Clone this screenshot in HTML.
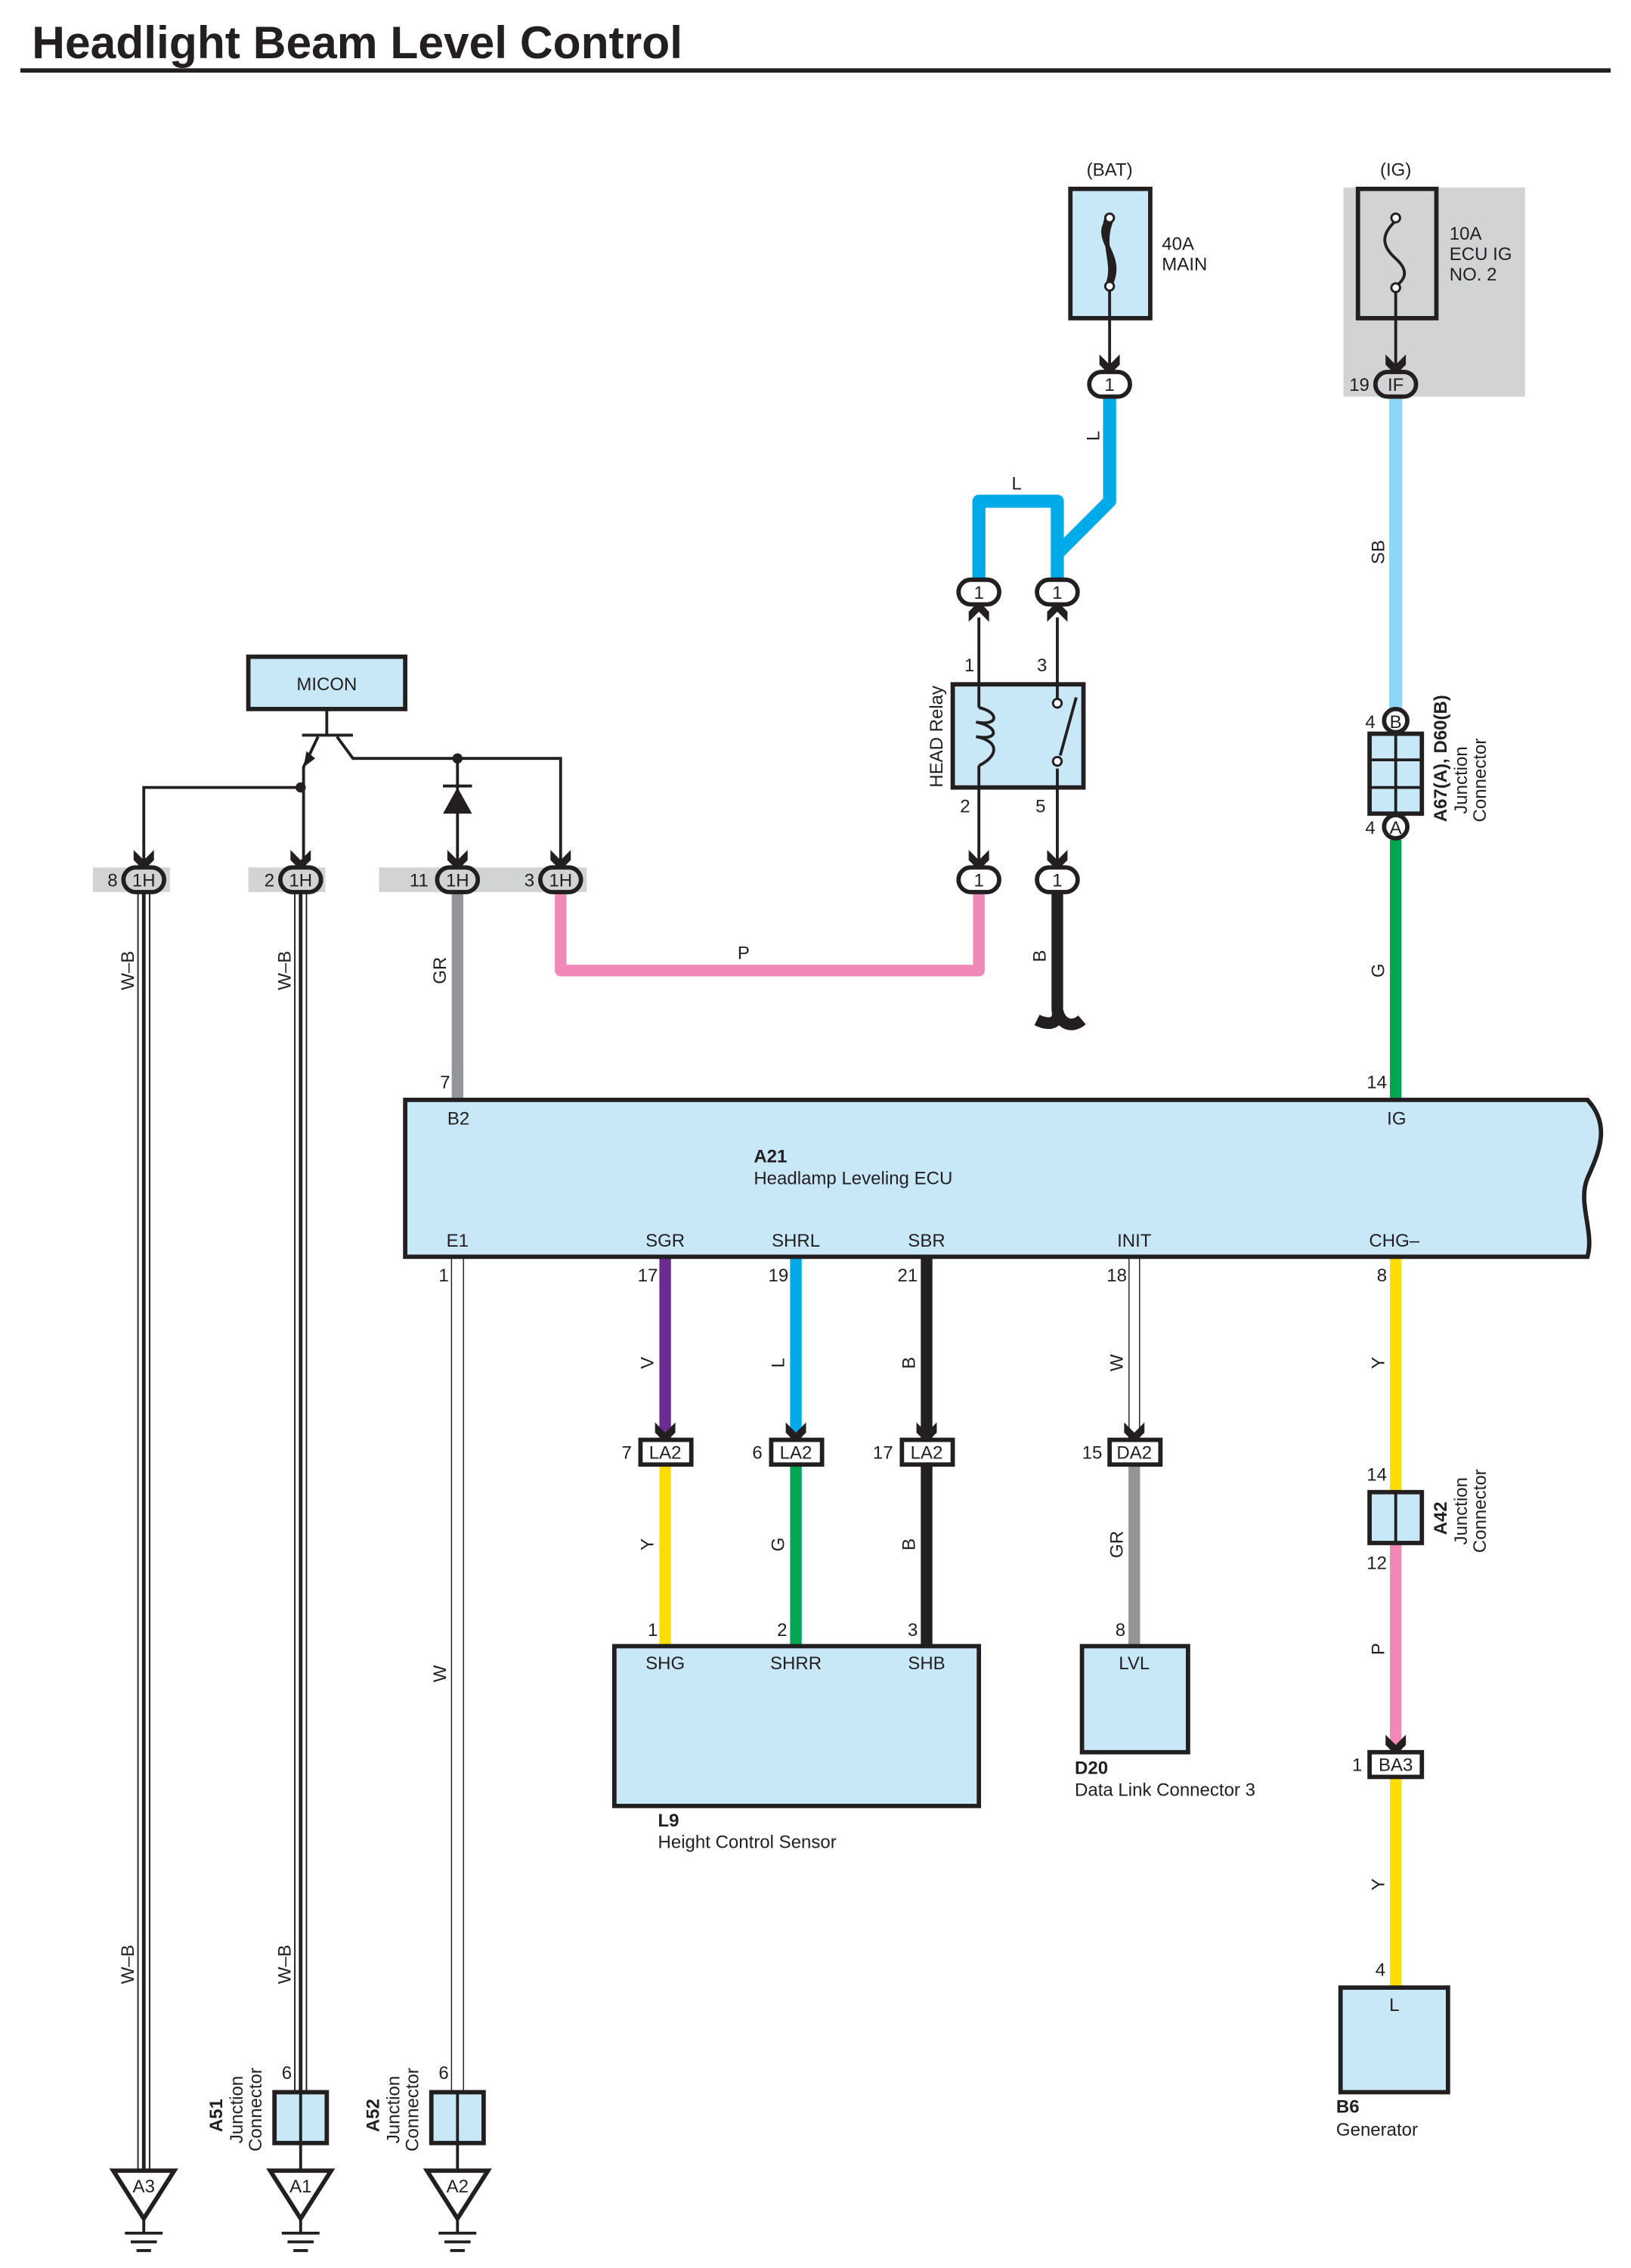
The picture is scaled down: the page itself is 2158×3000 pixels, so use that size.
<!DOCTYPE html>
<html><head><meta charset="utf-8"><style>
html,body{margin:0;padding:0;background:#fff;}
svg{display:block;}
text{font-family:"Liberation Sans",sans-serif;font-size:12.5px;fill:#231f20;}
.b{font-weight:bold;}
</style></head><body>
<svg width="2158" height="3000" viewBox="0 0 1123 1561" preserveAspectRatio="none" xmlns="http://www.w3.org/2000/svg">
<defs>
<path id="chev" d="M-7,-11 L0,-4 L7,-11 L7,-4 L0,3 L-7,-4 Z" fill="#231f20"/>
<path id="chevu" d="M-7,11 L0,4 L7,11 L7,4 L0,-3 L-7,4 Z" fill="#231f20"/>
</defs>
<text x="22" y="40" class="b" style="font-size:31.5px">Headlight Beam Level Control</text>
<rect x="14" y="47" width="1095" height="3" fill="#231f20"/>

<rect x="925" y="129" width="125" height="144" fill="#d2d3d5"/>
<rect x="64" y="597" width="53" height="17" fill="#d2d3d5"/>
<rect x="171" y="597" width="53" height="17" fill="#d2d3d5"/>
<rect x="261" y="597" width="143" height="17" fill="#d2d3d5"/>

<g fill="none" stroke-linejoin="round">
<path d="M764,273 V345 L728,381 V398 M674,398 V345 H728 V381" stroke="#00a9e8" stroke-width="9"/>
<path d="M961,273 V488" stroke="#8dd6f5" stroke-width="9"/>
<path d="M961,578 V757" stroke="#00a651" stroke-width="8"/>
<path d="M674,614 V668 H386 V614" stroke="#f088b8" stroke-width="8"/>
<path d="M728,614 V695 C730,705 722,706 714,702 M728,695 C730,705 738,708 745,702" stroke="#231f20" stroke-width="8"/>
<path d="M315,614 V757" stroke="#939598" stroke-width="8"/>
<path d="M458,865 V990" stroke="#6b2c91" stroke-width="8"/>
<path d="M548,865 V990" stroke="#00a9e8" stroke-width="8"/>
<path d="M638,865 V990" stroke="#231f20" stroke-width="8"/>
<path d="M458,1008 V1133" stroke="#ffdd00" stroke-width="8"/>
<path d="M548,1008 V1133" stroke="#00a651" stroke-width="8"/>
<path d="M638,1008 V1133" stroke="#231f20" stroke-width="8"/>
<path d="M781,1008 V1133" stroke="#939598" stroke-width="8"/>
<path d="M961,865 V1027" stroke="#ffdd00" stroke-width="8"/>
<path d="M961,1062 V1205" stroke="#f088b8" stroke-width="8"/>
<path d="M961,1223 V1368" stroke="#ffdd00" stroke-width="8"/>
</g>
<g fill="none">
<path d="M99,614 V1493" stroke="#231f20" stroke-width="9"/>
<path d="M99,614 V1493" stroke="#fff" stroke-width="7"/>
<path d="M99,614 V1493" stroke="#231f20" stroke-width="2.5"/>
<path d="M207,614 V1440" stroke="#231f20" stroke-width="9"/>
<path d="M207,614 V1440" stroke="#fff" stroke-width="7"/>
<path d="M207,614 V1440" stroke="#231f20" stroke-width="2.5"/>
<path d="M207,1475 V1493" stroke="#231f20" stroke-width="2"/>
<path d="M315,865 V1440" stroke="#231f20" stroke-width="9"/>
<path d="M315,865 V1440" stroke="#fff" stroke-width="7.5"/>
<path d="M315,1475 V1493" stroke="#231f20" stroke-width="2"/>
<path d="M781,865 V990" stroke="#231f20" stroke-width="8"/>
<path d="M781,865 V990" stroke="#fff" stroke-width="6.5"/>
</g>

<text x="764" y="121" text-anchor="middle">(BAT)</text>
<rect x="737" y="130" width="55" height="89" fill="#c8e8f8" stroke="#231f20" stroke-width="3"/>
<path d="M764,150 C750,165 776,175 764,197 M762,150 C756,168 772,178 762,197 M765,152 C758,170 768,180 763,195" fill="none" stroke="#231f20" stroke-width="3"/>
<circle cx="764" cy="150" r="3" fill="#fff" stroke="#231f20" stroke-width="1.5"/>
<circle cx="764" cy="197" r="3" fill="#fff" stroke="#231f20" stroke-width="1.5"/>
<path d="M764,200 V255" stroke="#231f20" stroke-width="2"/>
<text x="800" y="172">40A</text><text x="800" y="186">MAIN</text>
<text x="961" y="121" text-anchor="middle">(IG)</text>
<rect x="935" y="130" width="54" height="89" fill="none" stroke="#231f20" stroke-width="3"/>
<path d="M961,152 C950,162 952,170 961,178 C970,186 968,192 961,197" fill="none" stroke="#231f20" stroke-width="2"/>
<circle cx="961" cy="150" r="3" fill="#fff" stroke="#231f20" stroke-width="1.5"/>
<circle cx="961" cy="198" r="3" fill="#fff" stroke="#231f20" stroke-width="1.5"/>
<path d="M961,201 V255" stroke="#231f20" stroke-width="2"/>
<text x="998" y="165">10A</text><text x="998" y="179">ECU IG</text><text x="998" y="193">NO. 2</text>

<path d="M674,425 V598 M728,425 V598" stroke="#231f20" stroke-width="2"/>
<rect x="656" y="471" width="90" height="71" fill="#c8e8f8" stroke="#231f20" stroke-width="3"/>
<path d="M674,471 V542 M728,471 V542" stroke="#231f20" stroke-width="2"/>
<rect x="667" y="487" width="14" height="40" fill="#c8e8f8"/>
<path d="M674,487 C688,490 688,500 672,497 C688,500 688,510 672,507 C688,510 688,520 674,527" fill="none" stroke="#231f20" stroke-width="2"/>
<rect x="721" y="483" width="14" height="46" fill="#c8e8f8"/>
<path d="M741,480 L730,520" stroke="#231f20" stroke-width="2"/>
<circle cx="728" cy="484" r="3" fill="#fff" stroke="#231f20" stroke-width="1.5"/>
<circle cx="728" cy="524" r="3" fill="#fff" stroke="#231f20" stroke-width="1.5"/>
<text x="664" y="462">1</text><text x="714" y="462">3</text>
<text x="661" y="559">2</text><text x="713" y="559">5</text>
<text transform="translate(649,507) rotate(-90)" text-anchor="middle">HEAD Relay</text>

<rect x="171" y="452" width="108" height="36" fill="#c8e8f8" stroke="#231f20" stroke-width="3"/>
<text x="225" y="475" text-anchor="middle">MICON</text>
<g stroke="#231f20" stroke-width="2" fill="none">
<path d="M225,488 V506 M208,506 H243"/>
<path d="M219,507 L209,528 V598 M207,542 H99 V598"/>
<path d="M232,507 L243,522 H386 V598"/>
<path d="M315,522 V598"/>
</g>
<path d="M209,528 L211,517 L217,522 Z" fill="#231f20"/>
<circle cx="207" cy="542" r="3.5" fill="#231f20"/>
<circle cx="315" cy="522" r="3.5" fill="#231f20"/>
<path d="M305,560 L325,560 L315,542 Z" fill="#231f20"/>
<path d="M305,541 H325" stroke="#231f20" stroke-width="2"/>

<use href="#chev" x="764" y="255"/>
<use href="#chev" x="961" y="255"/>
<use href="#chev" x="99" y="596"/>
<use href="#chev" x="207" y="596"/>
<use href="#chev" x="315" y="596"/>
<use href="#chev" x="386" y="596"/>
<use href="#chev" x="674" y="596"/>
<use href="#chev" x="728" y="596"/>
<use href="#chev" x="458" y="990"/>
<use href="#chev" x="548" y="990"/>
<use href="#chev" x="638" y="990"/>
<use href="#chev" x="781" y="990"/>
<use href="#chev" x="961" y="1205"/>
<use href="#chevu" x="674" y="417"/>
<use href="#chevu" x="728" y="417"/>

<g fill="#fff" stroke="#231f20" stroke-width="3">
<rect x="750" y="256" width="28" height="17" rx="8.5"/>
<rect x="947" y="256" width="28" height="17" rx="8.5" fill="#d2d3d5"/>
<rect x="660" y="399" width="28" height="17" rx="8.5"/>
<rect x="714" y="399" width="28" height="17" rx="8.5"/>
<rect x="660" y="597" width="28" height="17" rx="8.5"/>
<rect x="714" y="597" width="28" height="17" rx="8.5"/>
<rect x="85" y="597" width="28" height="17" rx="8.5" fill="#d2d3d5"/>
<rect x="193" y="597" width="28" height="17" rx="8.5" fill="#d2d3d5"/>
<rect x="301" y="597" width="28" height="17" rx="8.5" fill="#d2d3d5"/>
<rect x="372" y="597" width="28" height="17" rx="8.5" fill="#d2d3d5"/>
</g>
<g text-anchor="middle">
<text x="764" y="269">1</text><text x="961" y="269">IF</text>
<text x="674" y="412">1</text><text x="728" y="412">1</text>
<text x="674" y="610">1</text><text x="728" y="610">1</text>
<text x="99" y="610">1H</text><text x="207" y="610">1H</text>
<text x="315" y="610">1H</text><text x="386" y="610">1H</text>
</g>
<text x="929" y="269">19</text>
<text x="74" y="610">8</text><text x="182" y="610">2</text>
<text x="282" y="610">11</text><text x="361" y="610">3</text>

<g text-anchor="middle">
<text transform="translate(757,300) rotate(-90)">L</text>
<text x="700" y="337">L</text>
<text transform="translate(953,380) rotate(-90)">SB</text>
<text transform="translate(953,668) rotate(-90)">G</text>
<text x="512" y="660">P</text>
<text transform="translate(720,658) rotate(-90)">B</text>
<text transform="translate(92,668) rotate(-90)">W–B</text>
<text transform="translate(200,668) rotate(-90)">W–B</text>
<text transform="translate(307,668) rotate(-90)">GR</text>
<text transform="translate(92,1352) rotate(-90)">W–B</text>
<text transform="translate(200,1352) rotate(-90)">W–B</text>
<text transform="translate(307,1152) rotate(-90)">W</text>
<text transform="translate(450,938) rotate(-90)">V</text>
<text transform="translate(540,938) rotate(-90)">L</text>
<text transform="translate(630,938) rotate(-90)">B</text>
<text transform="translate(773,938) rotate(-90)">W</text>
<text transform="translate(450,1063) rotate(-90)">Y</text>
<text transform="translate(540,1063) rotate(-90)">G</text>
<text transform="translate(630,1063) rotate(-90)">B</text>
<text transform="translate(773,1063) rotate(-90)">GR</text>
<text transform="translate(953,938) rotate(-90)">Y</text>
<text transform="translate(953,1135) rotate(-90)">P</text>
<text transform="translate(953,1297) rotate(-90)">Y</text>
</g>

<circle cx="961" cy="496" r="8" fill="#fff" stroke="#231f20" stroke-width="3"/>
<text x="961" y="501" text-anchor="middle">B</text>
<text x="940" y="501">4</text>
<rect x="943" y="505" width="36" height="55" fill="#c8e8f8" stroke="#231f20" stroke-width="3"/>
<path d="M961,505 V560 M943,523 H979 M943,542 H979" stroke="#231f20" stroke-width="2"/>
<circle cx="961" cy="569" r="8" fill="#fff" stroke="#231f20" stroke-width="3"/>
<text x="961" y="574" text-anchor="middle">A</text>
<text x="940" y="574">4</text>
<text transform="translate(996,522) rotate(-90)" text-anchor="middle" class="b">A67(A), D60(B)</text>
<text transform="translate(1010,537) rotate(-90)" text-anchor="middle">Junction</text>
<text transform="translate(1023,537) rotate(-90)" text-anchor="middle">Connector</text>
<text x="941" y="749">14</text>
<text x="303" y="749">7</text>

<path d="M279,757 H1093 C1110,775 1100,795 1093,811 C1086,828 1098,848 1093,865 H279 Z" fill="#c8e8f8" stroke="#231f20" stroke-width="3"/>
<text x="308" y="774">B2</text><text x="955" y="774">IG</text>
<text x="519" y="800" class="b">A21</text>
<text x="519" y="815">Headlamp Leveling ECU</text>
<g text-anchor="middle">
<text x="315" y="858">E1</text><text x="458" y="858">SGR</text><text x="548" y="858">SHRL</text>
<text x="638" y="858">SBR</text><text x="781" y="858">INIT</text><text x="960" y="858">CHG–</text>
</g>
<text x="302" y="882">1</text><text x="439" y="882">17</text><text x="529" y="882">19</text>
<text x="618" y="882">21</text><text x="762" y="882">18</text><text x="948" y="882">8</text>

<g fill="#fff" stroke="#231f20" stroke-width="3">
<rect x="441" y="991" width="35" height="17"/>
<rect x="531" y="991" width="35" height="17"/>
<rect x="621" y="991" width="35" height="17"/>
<rect x="764" y="991" width="35" height="17"/>
<rect x="943" y="1206" width="36" height="17"/>
</g>
<g text-anchor="middle">
<text x="458" y="1004">LA2</text><text x="548" y="1004">LA2</text>
<text x="638" y="1004">LA2</text><text x="781" y="1004">DA2</text>
<text x="961" y="1219">BA3</text>
</g>
<text x="428" y="1004">7</text><text x="518" y="1004">6</text><text x="601" y="1004">17</text>
<text x="745" y="1004">15</text><text x="931" y="1219">1</text>
<text x="446" y="1126">1</text><text x="535" y="1126">2</text><text x="625" y="1126">3</text><text x="768" y="1126">8</text>

<rect x="423" y="1133" width="251" height="110" fill="#c8e8f8" stroke="#231f20" stroke-width="3"/>
<rect x="745" y="1133" width="73" height="73" fill="#c8e8f8" stroke="#231f20" stroke-width="3"/>
<rect x="923" y="1368" width="74" height="72" fill="#c8e8f8" stroke="#231f20" stroke-width="3"/>
<g text-anchor="middle">
<text x="458" y="1149">SHG</text><text x="548" y="1149">SHRR</text><text x="638" y="1149">SHB</text>
<text x="781" y="1149">LVL</text><text x="960" y="1384">L</text>
</g>
<text x="453" y="1257" class="b">L9</text>
<text x="453" y="1272">Height Control Sensor</text>
<text x="740" y="1221" class="b">D20</text>
<text x="740" y="1236">Data Link Connector 3</text>

<text x="941" y="1019">14</text>
<rect x="943" y="1027" width="36" height="35" fill="#c8e8f8" stroke="#231f20" stroke-width="3"/>
<path d="M961,1027 V1062" stroke="#231f20" stroke-width="2"/>
<text x="941" y="1080">12</text>
<text transform="translate(996,1045) rotate(-90)" text-anchor="middle" class="b">A42</text>
<text transform="translate(1010,1040) rotate(-90)" text-anchor="middle">Junction</text>
<text transform="translate(1023,1040) rotate(-90)" text-anchor="middle">Connector</text>
<text x="947" y="1360">4</text>

<text x="920" y="1454" class="b">B6</text>
<text x="920" y="1470">Generator</text>

<rect x="189" y="1440" width="36" height="35" fill="#c8e8f8" stroke="#231f20" stroke-width="3"/>
<path d="M207,1440 V1475" stroke="#231f20" stroke-width="2"/>
<rect x="297" y="1440" width="36" height="35" fill="#c8e8f8" stroke="#231f20" stroke-width="3"/>
<path d="M315,1440 V1475" stroke="#231f20" stroke-width="2"/>
<text x="194" y="1431">6</text><text x="302" y="1431">6</text>
<text transform="translate(153,1456) rotate(-90)" text-anchor="middle" class="b">A51</text>
<text transform="translate(167,1452) rotate(-90)" text-anchor="middle">Junction</text>
<text transform="translate(180,1452) rotate(-90)" text-anchor="middle">Connector</text>
<text transform="translate(261,1456) rotate(-90)" text-anchor="middle" class="b">A52</text>
<text transform="translate(275,1452) rotate(-90)" text-anchor="middle">Junction</text>
<text transform="translate(288,1452) rotate(-90)" text-anchor="middle">Connector</text>

<g stroke="#231f20" fill="#fff" stroke-width="3">
<path d="M78,1494 H120 L99,1527 Z"/>
<path d="M186,1494 H228 L207,1527 Z"/>
<path d="M294,1494 H336 L315,1527 Z"/>
</g>
<g stroke="#231f20" stroke-width="2">
<path d="M99,1527 V1537 M86,1537 H112 M90,1543 H108 M94,1549 H104"/>
<path d="M207,1527 V1537 M194,1537 H220 M198,1543 H216 M202,1549 H212"/>
<path d="M315,1527 V1537 M302,1537 H328 M306,1543 H324 M310,1549 H320"/>
</g>
<g text-anchor="middle">
<text x="99" y="1509">A3</text><text x="207" y="1509">A1</text><text x="315" y="1509">A2</text>
</g>
</svg>
</body></html>
